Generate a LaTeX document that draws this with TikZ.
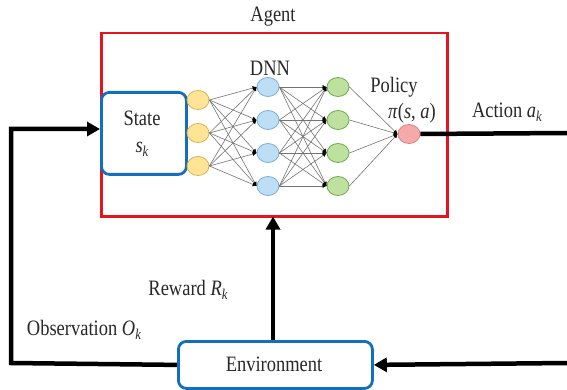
\documentclass[tikz,border=0pt]{standalone}
\usepackage{fontspec}
\setmainfont[FakeStretch=0.84]{Liberation Serif}
\usetikzlibrary{arrows.meta,shapes.geometric}
\definecolor{agentred}{RGB}{230,20,30}
\definecolor{boxblue}{RGB}{20,110,190}
\definecolor{yfill}{RGB}{255,228,150}
\definecolor{ydraw}{RGB}{215,180,80}
\definecolor{bfill}{RGB}{190,222,245}
\definecolor{bdraw}{RGB}{120,175,215}
\definecolor{gfill}{RGB}{190,225,160}
\definecolor{gdraw}{RGB}{110,170,80}
\definecolor{pfill}{RGB}{245,170,170}
\definecolor{pdraw}{RGB}{215,130,130}
\definecolor{txtgray}{RGB}{40,40,40}
\newcommand{\subk}{\raisebox{-0.4ex}{\fontsize{15}{15}\selectfont\textit{k}}}
\begin{document}
\begin{tikzpicture}[x=1pt,y=-1pt,
  txt/.style={font=\fontsize{22}{25}\selectfont, inner sep=0pt, text=txtgray},
  neuron/.style={ellipse, minimum width=22pt, minimum height=19pt, inner sep=0pt, line width=0.8pt},
  ynode/.style={neuron, fill=yfill, draw=ydraw},
  bnode/.style={neuron, fill=bfill, draw=bdraw},
  gnode/.style={neuron, fill=gfill, draw=gdraw},
  pnode/.style={neuron, fill=pfill, draw=pdraw},
  link/.style={draw=black!55, line width=0.6pt, -{Latex[length=4pt,width=4pt,color=black]}},
  bluebox/.style={draw=boxblue, line width=2.8pt, rounded corners=8pt, fill=white},
  flow/.style={line width=4.5pt, draw=black},
  flowarrow/.style={flow, -{Triangle[length=13pt,width=14pt]}}
]
\useasboundingbox (0,0) rectangle (567,390);
% Agent box
\node[draw=agentred, line width=2.5pt, minimum width=346pt, minimum height=183pt, anchor=north west, inner sep=0pt] (agent) at (100,32) {};
\node[txt] (agentlbl) at (273,17) {Agent};
% State
\node[bluebox, minimum width=85pt, minimum height=82pt, anchor=north west, inner sep=0pt] (state) at (100,91) {};
\node[txt] (statelbl) at (142,118) {State};
\node[txt] (sk) at (142,149) {\textit{s}\subk};
% Neurons
\foreach \i/\y in {1/100,2/133,3/166} \node[ynode] (y\i) at (198,\y) {};
\foreach \i/\y in {1/87,2/120,3/153,4/186} \node[bnode] (b\i) at (268,\y) {};
\foreach \i/\y in {1/87,2/120,3/153,4/186} \node[gnode] (g\i) at (338,\y) {};
\node[pnode] (p) at (409,134) {};
% Links
\foreach \i in {1,2,3} \foreach \j in {1,2,3,4} \draw[link] (y\i.east) -- (b\j.west);
\foreach \i in {1,2,3,4} \foreach \j in {1,2,3,4} \draw[link] (b\i.east) -- (g\j.west);
\foreach \i in {1,2,3,4} \draw[link] (g\i.east) -- (p.west);
\node[txt] (dnn) at (270,68) {DNN};
\node[txt] (policy) at (394,87) {Policy};
\node[txt] (pi) at (412,113) {\textit{π}(\textit{s}, \textit{a})};
% Action
\coordinate (actend) at (567,133);
\draw[flow] (p.east) -- (actend);
\node[txt] (action) at (507,112) {Action \textit{a}\subk};
% Environment
\node[bluebox, minimum width=194pt, minimum height=47pt, anchor=north west, inner sep=0pt] (env) at (177,340) {};
\node[txt] (envlbl) at (274,364) {Environment};
\coordinate (envin) at (567,363);
\draw[flowarrow] (envin) -- (env.east);
% Reward
\coordinate (rtop) at (273,216.5);
\draw[flowarrow] (env.north -| rtop) -- (rtop);
\node[txt] (reward) at (188,290) {Reward \textit{R}\subk};
% Observation loop
\coordinate (lb) at (11,363);
\coordinate (lt) at (11,129);
\draw[flowarrow, line join=miter] (env.west) -- (lb) -- (lt) -- (state.west |- lt);
\node[txt] (obs) at (84,330) {Observation \textit{O}\subk};
\end{tikzpicture}
\end{document}
